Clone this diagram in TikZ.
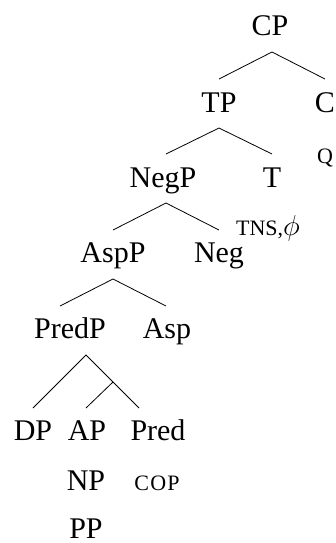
\documentclass[tikz,border=0pt]{standalone}
\usepackage{fontspec}
\setmainfont{Liberation Serif}
\newfontfamily\copfont[LetterSpace=6]{Liberation Serif}
\usepackage{tikz}

\begin{document}
\begin{tikzpicture}[x=0.5pt,y=-0.5pt,
	cat/.style={inner sep=0pt,anchor=base,font=\fontsize{15}{18}\selectfont},
	feat/.style={inner sep=0pt,anchor=base,font=\fontsize{11}{13}\selectfont}]
	\useasboundingbox (0,0) rectangle (336,543);

	% labels
	\node [cat] (CP) at (270,35) {CP};
	\node [cat] (TP) at (219,112) {TP};
	\node [cat] (C) at (325,112) {C};
	\node [feat] (Q) at (325,163) {Q};
	\node [cat] (NegP) at (163,187) {NegP};
	\node [cat] (T) at (272,187) {T};
	\node [feat] (tns) at (268,235) {TNS,\fontsize{15}{18}\selectfont$\phi$};
	\node [cat] (AspP) at (113,262) {AspP};
	\node [cat] (Neg) at (219,262) {Neg};
	\node [cat] (PredP) at (70,338) {PredP};
	\node [cat] (Asp) at (167,338) {Asp};
	\node [cat] (DP) at (33,440) {DP};
	\node [cat] (AP) at (87,440) {AP};
	\node [cat] (Pred) at (158,440) {Pred};
	\node [cat] (NP) at (86,490) {NP};
	\node [feat] (cop) at (157,490) {\copfont COP};
	\node [cat] (PP) at (86,538) {PP};

	% branch points
	\coordinate (cp-a) at (272,52);
	\coordinate (tp-t) at (219,79);
	\coordinate (c-t) at (325,79);
	\coordinate (tp-a) at (219,128);
	\coordinate (negp-t) at (166,154);
	\coordinate (t-t) at (272,154);
	\coordinate (negp-a) at (166,203);
	\coordinate (aspp-t) at (113,230);
	\coordinate (neg-t) at (219,230);
	\coordinate (aspp-a) at (113,279);
	\coordinate (predp-t) at (60,306);
	\coordinate (asp-t) at (166,306);
	\coordinate (predp-a) at (86,355);
	\coordinate (dp-t) at (33,408);
	\coordinate (pbar) at (113,382);
	\coordinate (ap-t) at (86,408);
	\coordinate (pred-t) at (139,408);

	% edges
	\draw (tp-t) -- (cp-a) -- (c-t);
	\draw (negp-t) -- (tp-a) -- (t-t);
	\draw (aspp-t) -- (negp-a) -- (neg-t);
	\draw (predp-t) -- (aspp-a) -- (asp-t);
	\draw (dp-t) -- (predp-a) -- (pred-t);
	\draw (pbar) -- (ap-t);
\end{tikzpicture}
\end{document}
